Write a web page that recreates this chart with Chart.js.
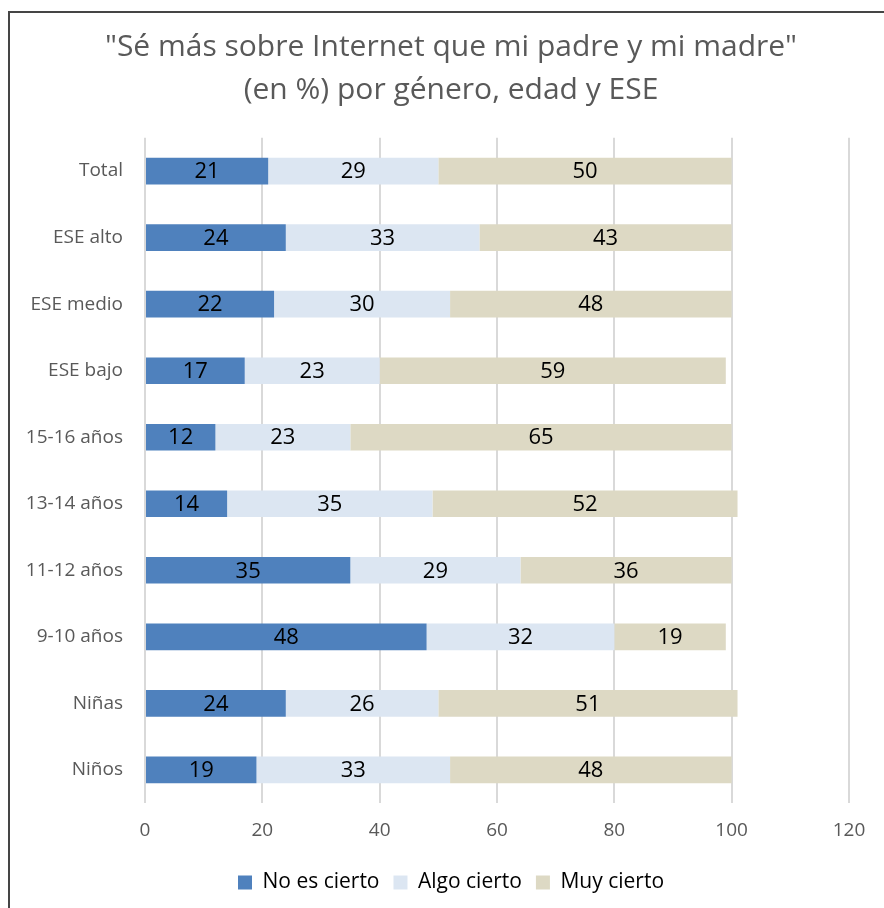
<!DOCTYPE html>
<html lang="es">
<head>
<meta charset="utf-8">
<title>Sé más sobre Internet que mi padre y mi madre</title>
<script src="https://cdn.jsdelivr.net/npm/chart.js@4.4.1/dist/chart.umd.min.js"></script>
<style>
  html, body { margin: 0; padding: 0; background: #fff; overflow: hidden; }
  #wrap { position: relative; width: 902px; height: 908px; }
  #frame {
    position: absolute; left: 8px; top: 11px; width: 1000px; height: 1000px;
    border: 2px solid #454545; pointer-events: none; box-sizing: border-box;
  }
</style>
</head>
<body>
<div id="wrap">
  <canvas id="grafico" width="902" height="908"></canvas>
  <div id="frame"></div>
</div>
<script>
// categorías de arriba hacia abajo
const categorias = ['Total', 'ESE alto', 'ESE medio', 'ESE bajo', '15-16 años',
  '13-14 años', '11-12 años', '9-10 años', 'Niñas', 'Niños'];

// porcentajes por respuesta
const noEsCierto = [21, 24, 22, 17, 12, 14, 35, 48, 24, 19];
const algoCierto = [29, 33, 30, 23, 23, 35, 29, 32, 26, 33];
const muyCierto  = [50, 43, 48, 59, 65, 52, 36, 19, 51, 48];

const ticksX = [0, 20, 40, 60, 80, 100, 120];

const fuente = "'Open Sans', 'Noto Sans', sans-serif";

// escribe el valor en el centro de cada segmento
const etiquetasValor = {
  id: 'etiquetasValor',
  afterDatasetsDraw(chart) {
    const ctx = chart.ctx;
    ctx.save();
    ctx.font = '22px ' + fuente;
    ctx.fillStyle = '#000';
    ctx.textAlign = 'center';
    ctx.textBaseline = 'middle';
    chart.data.datasets.forEach((ds, i) => {
      chart.getDatasetMeta(i).data.forEach((bar, j) => {
        const p = bar.getCenterPoint();
        ctx.fillText(ds.data[j], p.x, p.y + 1);
      });
    });
    ctx.restore();
  }
};

new Chart(document.getElementById('grafico'), {
  type: 'bar',
  data: {
    labels: categorias,
    datasets: [
      { label: 'No es cierto', data: noEsCierto, backgroundColor: '#4F81BD' },
      { label: 'Algo cierto', data: algoCierto, backgroundColor: '#DCE6F2' },
      { label: 'Muy cierto', data: muyCierto, backgroundColor: '#DDD9C4' }
    ]
  },
  options: {
    indexAxis: 'y',
    responsive: false,
    animation: false,
    barPercentage: 0.4,
    categoryPercentage: 1,
    layout: { padding: { left: 0, right: 0, top: 0, bottom: 5 } },
    scales: {
      x: {
        stacked: true,
        min: 0,
        max: 120,
        afterBuildTicks(scale) {
          scale.ticks = ticksX.map(v => ({ value: v }));
        },
        grid: { color: '#D9D9D9', lineWidth: 2, drawTicks: false },
        border: { display: false },
        ticks: { color: '#595959', font: { family: fuente, size: 19 }, padding: 16 }
      },
      y: {
        stacked: true,
        grid: { display: false, drawTicks: false },
        border: { display: false },
        afterFit(scale) { scale.width = 145; },
        ticks: { color: '#595959', font: { family: fuente, size: 19 }, padding: 22 }
      },
      // eje vacío a la derecha: deja margen y mantiene centrados título y leyenda
      margenDerecho: {
        axis: 'y',
        type: 'category',
        position: 'right',
        grid: { display: false, drawTicks: false },
        border: { display: false },
        ticks: { display: false },
        afterFit(scale) { scale.width = 53; }
      }
    },
    plugins: {
      title: {
        display: true,
        text: ['"Sé más sobre Internet que mi padre y mi madre"', '(en %) por género, edad y ESE'],
        color: '#595959',
        font: { family: fuente, size: 30, weight: 'normal', lineHeight: 1.43 },
        padding: { top: 26, bottom: 26 }
      },
      legend: {
        position: 'bottom',
        labels: {
          color: '#000',
          font: { family: fuente, size: 21 },
          boxWidth: 14,
          boxHeight: 14,
          padding: 14
        }
      },
      tooltip: { enabled: false }
    }
  },
  plugins: [etiquetasValor]
});
</script>
</body>
</html>
